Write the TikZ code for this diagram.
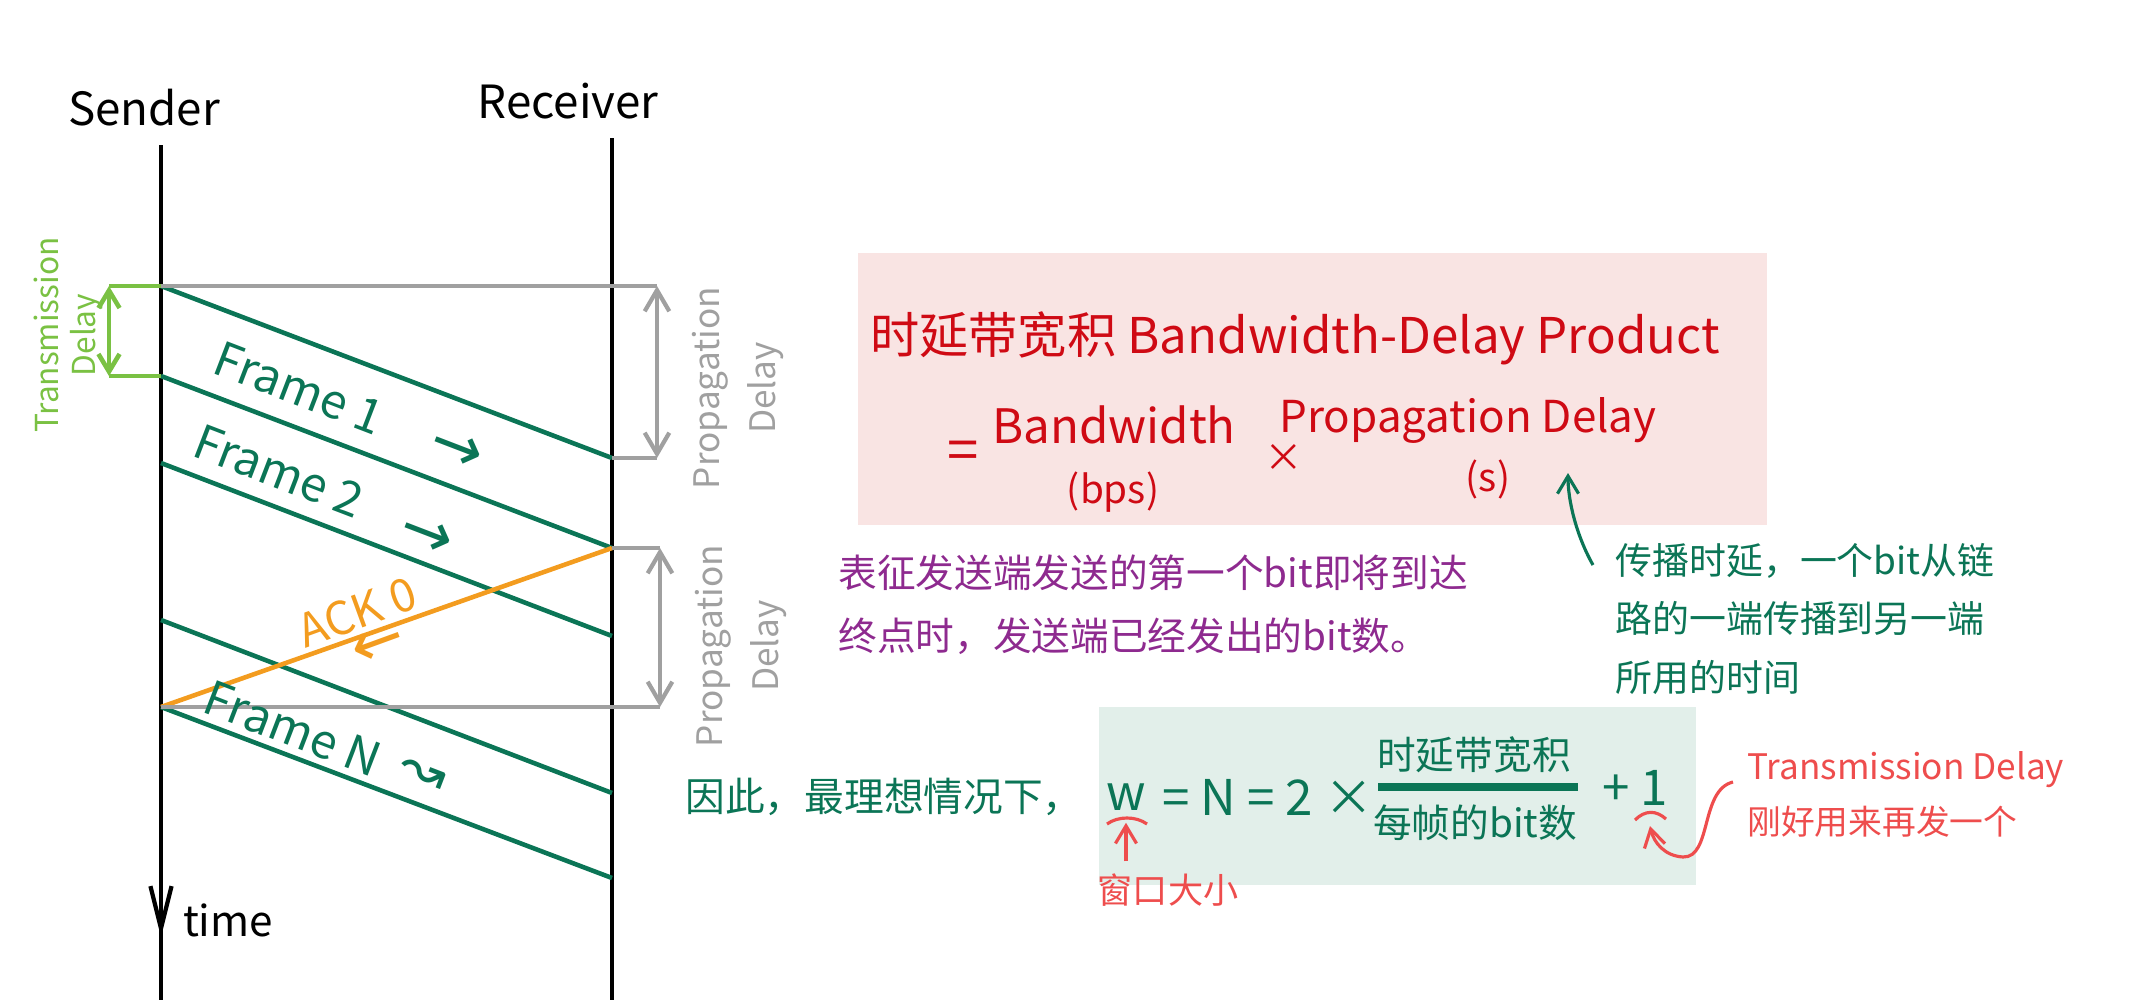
\documentclass[tikz,border=0pt]{standalone}
\usepackage{fontspec}
\setmainfont{Noto Sans CJK SC}
\newfontfamily\arrowfont{DejaVu Sans}
\usetikzlibrary{arrows.meta,positioning}

\definecolor{framegreen}{HTML}{0B7556}
\definecolor{tdgreen}{HTML}{7AC143}
\definecolor{pdgray}{HTML}{A0A0A0}
\definecolor{ackorange}{HTML}{F39C1F}
\definecolor{titlered}{HTML}{CF0A14}
\definecolor{notepurple}{HTML}{8E2A8F}
\definecolor{notered}{HTML}{EE4D4D}
\definecolor{pinkbox}{HTML}{F9E4E3}
\definecolor{tealbox}{HTML}{E2EFEA}

\newcommand{\fsz}[2]{\fontsize{#1}{#2}\selectfont}

\tikzset{
  lifeline/.style={line width=0.9pt},
  frameline/.style={framegreen, line width=1.3pt},
  ackline/.style={ackorange, line width=1.3pt},
  pdline/.style={pdgray, line width=1.2pt},
  tdline/.style={tdgreen, line width=1.3pt},
  redline/.style={notered, line width=0.9pt},
  barbs/.style={{Straight Barb[length=6pt,width=7pt]}-{Straight Barb[length=6pt,width=7pt]}},
  tip/.style={-{Straight Barb[length=5pt,width=6pt]}},
  framelabel/.style={framegreen, font=\fsz{13.5}{16}, rotate=-21},
  glyph/.style={font=\arrowfont\fsz{18}{20}},
}

\begin{document}
\begin{tikzpicture}[x=0.01cm, y=-0.01cm]
\useasboundingbox (0,0) rectangle (2156,1000);

% boxes behind the notes
\fill[pinkbox] (858,253) rectangle (1767,525);
\fill[tealbox] (1099,707) rectangle (1696,885);

% sender and receiver
\node[font=\fsz{13}{16}] (sender) at (144,108) {Sender};
\node[font=\fsz{13}{16}] (receiver) at (568,101) {Receiver};
\coordinate (sTop) at (161,145);
\coordinate (sEnd) at (161,1000);
\coordinate (rTop) at (612,138);
\coordinate (rEnd) at (612,1000);
\draw[lifeline] (sTop) -- (sEnd);
\draw[lifeline] (rTop) -- (rEnd);

% frames: leave sender, reach receiver
\foreach \n/\ys/\yr in {1/286/458, 2/376/548, 3/463/636, 4/620/793, 5/707/878} {
  \coordinate (s\n) at (161,\ys);
  \coordinate (r\n) at (612,\yr);
}
\foreach \n in {1,...,5}
  \draw[frameline] (s\n) -- (r\n);
\draw[ackline] (r2) -- (s5);

% propagation delay
\coordinate (pd1top) at (657,286);
\coordinate (pd1bot) at (657,458);
\coordinate (pd2top) at (660,548);
\coordinate (pd2bot) at (660,707);
\draw[pdline] (s1) -- (pd1top);
\draw[pdline] (r1) -- (pd1bot);
\draw[pdline, barbs] (pd1top) -- (pd1bot);
\draw[pdline] (r2) -- (pd2top);
\draw[pdline] (s5) -- (pd2bot);
\draw[pdline, barbs] (pd2top) -- (pd2bot);
\node[pdgray, rotate=90, align=center, font=\fsz{10}{16}] (pd1label) at (738,388) {Propagation\\Delay};
\node[pdgray, rotate=90, align=center, font=\fsz{10}{16}] (pd2label) at (741,646) {Propagation\\Delay};

% transmission delay
\coordinate (td1) at (109,286);
\coordinate (td2) at (109,376);
\draw[tdline] (td1) -- (s1);
\draw[tdline] (td2) -- (s2);
\draw[tdline, {Straight Barb[length=5pt,width=6pt]}-{Straight Barb[length=5pt,width=6pt]}] (td1) -- (td2);
\node[tdgreen, rotate=90, align=center, font=\fsz{9}{10.5}] (tdlabel) at (68,335) {Transmission\\Delay};

% time
\coordinate (tA) at (161,880);
\coordinate (tB) at (161,937);
\draw[line width=1.2pt, -{Straight Barb[length=12pt,width=6pt]}] (tA) -- (tB);
\node[font=\fsz{12}{14}] (time) at (228,920) {time};

% labels on the frames
\node[framelabel] (f1) at (299,388) {Frame 1};
\node[framelabel, glyph] (f1arr) at (456,450) {→};
\node[framelabel] (f2) at (279,471) {Frame 2};
\node[framelabel, glyph] (f2arr) at (426,536) {→};
\node[framelabel] (fN) at (293,729) {Frame N};
\node[framelabel, glyph, font=\arrowfont\fsz{16}{18}] (fNarr) at (422,776) {↝};
\node[ackorange, rotate=20, font=\fsz{13}{16}] (ack) at (357,612) {ACK 0};
\node[ackorange, rotate=20, glyph] (ackarr) at (379,646) {←};

% bandwidth-delay product
\node[titlered, font=\fsz{14}{17}] (bdp) at (1295,338) {时延带宽积 Bandwidth-Delay Product};
\node[titlered, font=\fsz{16}{18}] (eqA) at (963,456) {=};
\node[titlered, font=\fsz{13.5}{16}] (bw) at (1114,425) {Bandwidth};
\node[titlered, font=\fsz{11}{13}] (bps) at (1113,492) {(bps)};
\node[titlered, font=\fsz{11}{13}] (times) at (1284,458) {×};
\node[titlered, font=\fsz{12.5}{15}] (pd) at (1468,420) {Propagation Delay};
\node[titlered, font=\fsz{11}{13}] (sec) at (1488,479) {(s)};

% notes
\node[notepurple, font=\fsz{11}{18}, align=left, anchor=west] (bdpnote) at (826,605) {表征发送端发送的第一个bit即将到达\\终点时，发送端已经发出的bit数。};
\node[framegreen, font=\fsz{10.5}{16.5}, align=left, anchor=west] (pdnote) at (1603,619) {传播时延，一个bit从链\\路的一端传播到另一端\\所用的时间};
\coordinate (pdtail) at (1593,565);
\coordinate (pdhead) at (1568,473);
\draw[framegreen, line width=0.9pt, tip] (pdtail) .. controls (1576,535) and (1568,500) .. (pdhead);

% window size
\node[framegreen, font=\fsz{11.3}{14}] (therefore) at (884,797) {因此，最理想情况下，};
\node[framegreen, font=\fsz{14}{17}] (w) at (1126,797) {w};
\node[framegreen, font=\fsz{14}{17}, anchor=west] (lhs) at (1150,797) {= N = 2 ×};
\node[framegreen, font=\fsz{11}{13}] (num) at (1474,755) {时延带宽积};
\node[framegreen, font=\fsz{11}{13}] (den) at (1475,823) {每帧的bit数};
\coordinate (barL) at (1378,787);
\coordinate (barR) at (1578,787);
\draw[framegreen, line width=2.2pt] (barL) -- (barR);
\node[framegreen, font=\fsz{14}{17}] (plusone) at (1635,788) {+ 1};

% red remarks
\draw[redline] (1107,824) .. controls (1118,816) and (1136,816) .. (1147,824);
\node[notered, font=\fsz{10}{12}] (winsize) at (1168,890) {窗口大小};
\draw[redline, tip] (winsize.north -| w) -- (w.south);
\coordinate (onetilde) at (1650,826);
\draw[redline] (1635,820) .. controls (1645,810) and (1656,810) .. (1666,819);
\node[notered, font=\fsz{10}{12}, anchor=west] (tdnote) at (1735,770) {Transmission Delay};
\node[notered, font=\fsz{9.6}{12}, anchor=west] (tdnote2) at (1735,822) {刚好用来再发一个};
\coordinate (tdtail) at (1733,782);
\draw[redline, tip] (tdtail) .. controls (1700,790) and (1712,858) .. (1683,857) .. controls (1665,856) and (1654,843) .. (onetilde);
\end{tikzpicture}
\end{document}
